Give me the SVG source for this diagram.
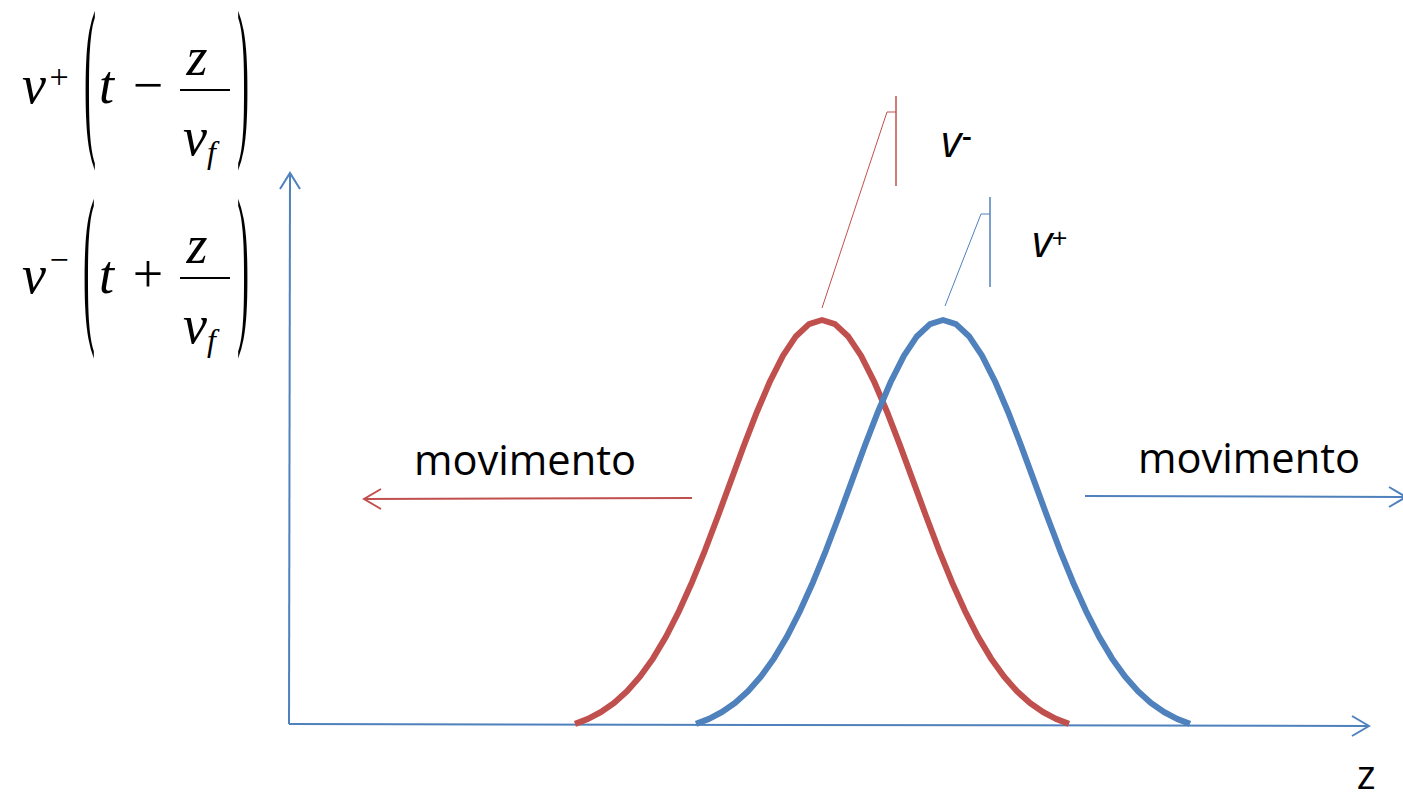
<svg xmlns="http://www.w3.org/2000/svg" width="1403" height="793" viewBox="0 0 1403 793">
<style>
.math{font-family:"Liberation Serif","DejaVu Serif",serif;fill:#000}
.it{font-style:italic}
.lbl{font-family:"Open Sans","Liberation Sans",sans-serif;fill:#000}
.blue{stroke:#4F81BD;fill:none}
.red{stroke:#C0504D;fill:none}
.curve{stroke-width:6;stroke-linejoin:round;fill:none}
</style>
<rect width="1403" height="793" fill="#fff"/>
<defs>
<polyline id="pulse" points="-247,723.9 -234,718.9 -221,712 -208,703 -195,691.3 -182,676.5 -169,658.4 -156,636.6 -143,611.1 -130,582.2 -117,550.3 -104,516 -91,480.6 -78,445.3 -65,411.7 -52,381.3 -39,355.7 -26,336.2 -13,324.1 0,320 13,324.1 26,336.2 39,355.7 52,381.3 65,411.7 78,445.3 91,480.6 104,516 117,550.3 130,582.2 143,611.1 156,636.6 169,658.4 182,676.5 195,691.3 208,703 221,712 234,718.9 247,723.9"/>
</defs>
<g id="formula-plus">
<text class="math it" x="22" y="103" font-size="54">v</text>
<text class="math" x="59" y="88" font-size="34" text-anchor="middle">+</text>
<g transform="translate(90,91) scale(1,4.9)"><text class="math" x="0" y="8.6" font-size="36" text-anchor="middle">(</text></g>
<text class="math it" x="99" y="103" font-size="54">t</text>
<text class="math" x="148" y="103" font-size="54" text-anchor="middle">−</text>
<text class="math it" x="197" y="75" font-size="54" text-anchor="middle">z</text>
<line x1="180" y1="90" x2="230" y2="90" stroke="#000" stroke-width="2"/>
<text class="math it" x="183" y="155" font-size="54">v</text>
<text class="math it" x="207" y="163" font-size="32">f</text>
<g transform="translate(243,91) scale(1,4.9)"><text class="math" x="0" y="8.6" font-size="36" text-anchor="middle">)</text></g>
</g>
<g id="formula-minus">
<text class="math it" x="22" y="293" font-size="54">v</text>
<text class="math" x="59" y="271" font-size="34" text-anchor="middle">−</text>
<g transform="translate(89,279) scale(1,4.9)"><text class="math" x="0" y="8.6" font-size="36" text-anchor="middle">(</text></g>
<text class="math it" x="99" y="293" font-size="54">t</text>
<text class="math" x="148" y="292" font-size="54" text-anchor="middle">+</text>
<text class="math it" x="197" y="263" font-size="54" text-anchor="middle">z</text>
<line x1="180" y1="278" x2="230" y2="278" stroke="#000" stroke-width="2"/>
<text class="math it" x="183" y="343" font-size="54">v</text>
<text class="math it" x="207" y="351" font-size="32">f</text>
<g transform="translate(243,279) scale(1,4.9)"><text class="math" x="0" y="8.6" font-size="36" text-anchor="middle">)</text></g>
</g>
<g id="axes" class="blue" stroke-width="2">
<line x1="289" y1="724" x2="290" y2="174"/>
<polyline points="280,189 290,173 300,189"/>
<line x1="289" y1="724" x2="1368" y2="726"/>
<polyline points="1352,716 1369,726 1352,736"/>
</g>
<g id="pulse-red" class="red curve"><use href="#pulse" transform="translate(822,0)"/></g>
<g id="pulse-blue" class="blue curve"><use href="#pulse" transform="translate(943,0)"/></g>
<g id="connectors">
<g class="red" stroke-width="2">
<line x1="692" y1="498" x2="364" y2="499"/>
<polyline points="381,489 364,499 381,509"/>
</g>
<g class="blue" stroke-width="2">
<line x1="1085" y1="496" x2="1405" y2="497"/>
<polyline points="1389,487 1406,497 1389,507"/>
</g>
<g class="red">
<polyline points="822,308 887,112 896,112" stroke-width="1"/>
<line x1="896" y1="96" x2="896" y2="186" stroke-width="1.5"/>
</g>
<g class="blue">
<polyline points="945,306 981,214 990,214" stroke-width="1"/>
<line x1="990" y1="197" x2="990" y2="287" stroke-width="1.5"/>
</g>
</g>
<g id="label-left"><text class="lbl" x="414" y="475" font-size="42" textLength="222" lengthAdjust="spacingAndGlyphs">movimento</text></g>
<g id="label-right"><text class="lbl" x="1138" y="473" font-size="42" textLength="222" lengthAdjust="spacingAndGlyphs">movimento</text></g>
<g id="label-vminus"><text class="lbl" x="941" y="157" font-size="44" font-style="italic" font-weight="500">v</text><text class="lbl" x="962" y="147" font-size="30" font-weight="600">-</text></g>
<g id="label-vplus"><text class="lbl" x="1032" y="257" font-size="44" font-style="italic" font-weight="500">v</text><text class="lbl" x="1051" y="248" font-size="28" font-style="italic" font-weight="500">+</text></g>
<g id="label-z"><text class="lbl" x="1366" y="789" font-size="40" text-anchor="middle">z</text></g>
</svg>
